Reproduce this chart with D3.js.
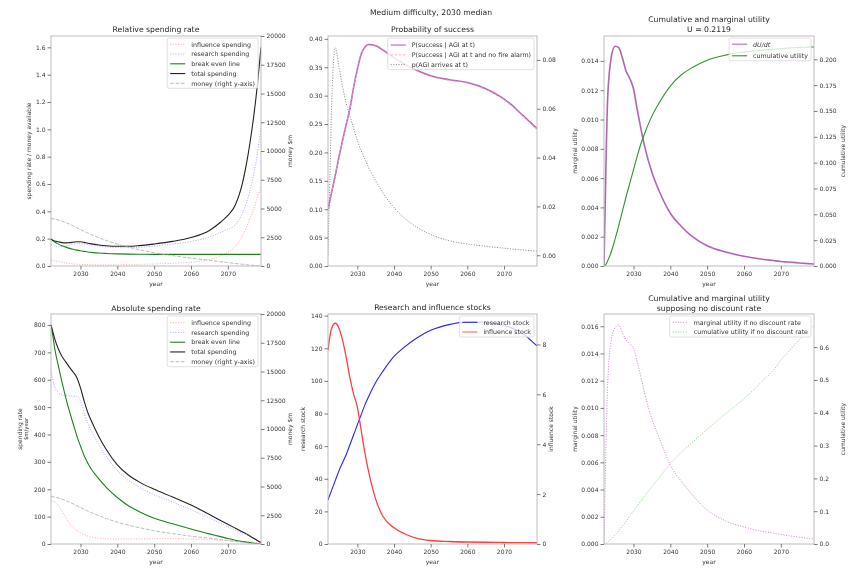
<!DOCTYPE html>
<meta charset="utf-8">
<style>
  body { margin: 0; background: #fff; }
  svg { will-change: transform; }
  svg text { font-family: "DejaVu Sans", sans-serif; }
</style>
<svg width="850" height="574"></svg>
<script src="https://d3js.org/d3.v7.min.js"></script>
<script>
// ---- data ----
const years = [2022, 2022.5, 2023, 2024, 2025, 2026, 2027, 2028, 2029, 2030, 2031, 2032, 2033, 2035, 2037,
  2040, 2043, 2046, 2050, 2055, 2060, 2065, 2068, 2070, 2072, 2074, 2075, 2076, 2077, 2078, 2079];
const xTicks = [2030, 2040, 2050, 2060, 2070];

// relative spending rate
const influenceRel = [0.041, 0.039, 0.037, 0.034, 0.028, 0.022, 0.018, 0.015, 0.013, 0.012, 0.011, 0.010, 0.009, 0.008, 0.008,
  0.009, 0.010, 0.012, 0.015, 0.020, 0.028, 0.048, 0.075, 0.10, 0.145, 0.22, 0.28, 0.35, 0.42, 0.50, 0.58];
const researchRel = [0.156, 0.150, 0.146, 0.143, 0.143, 0.147, 0.153, 0.159, 0.164, 0.165, 0.162, 0.157, 0.153, 0.146, 0.140,
  0.135, 0.134, 0.137, 0.146, 0.160, 0.180, 0.212, 0.245, 0.27, 0.30, 0.39, 0.46, 0.55, 0.67, 0.82, 1.02];
const totalRel = [0.197, 0.189, 0.183, 0.177, 0.171, 0.169, 0.171, 0.174, 0.177, 0.177, 0.173, 0.167, 0.162, 0.154, 0.148,
  0.144, 0.144, 0.149, 0.161, 0.180, 0.208, 0.26, 0.32, 0.37, 0.445, 0.61, 0.74, 0.90, 1.09, 1.32, 1.60];
const breakEvenRel = [0.197, 0.186, 0.176, 0.160, 0.148, 0.138, 0.129, 0.122, 0.116, 0.111, 0.107, 0.103, 0.100, 0.095, 0.092,
  0.089, 0.087, 0.086, 0.085, 0.085, 0.085, 0.085, 0.085, 0.085, 0.085, 0.085, 0.085, 0.085, 0.085, 0.085, 0.085];
const money = [4120, 4110, 4080, 4000, 3900, 3780, 3640, 3490, 3330, 3170, 3010, 2860, 2720, 2460, 2220,
  1900, 1640, 1420, 1150, 900, 680, 500, 380, 300, 220, 150, 115, 80, 50, 22, 0];

// absolute spending rate ($m/year)
const influenceAbs = [158, 157, 154, 140, 118, 98, 76, 60, 49, 41, 34, 29, 26, 21, 19,
  18, 18, 18.5, 19, 19.5, 18, 16, 14, 12.5, 11, 9, 8, 7, 6, 5, 4];
const researchAbs = [630, 600, 575, 553, 544, 542, 541, 540, 539, 522, 478, 440, 412, 362, 320,
  268, 232, 207, 180, 153, 125, 95, 76, 63, 51, 39, 33, 26, 19, 12, 4];
const breakEvenAbs = [800, 760, 715, 650, 590, 535, 485, 440, 395, 358, 322, 295, 272, 238, 207,
  170, 140, 118, 94, 74, 55, 37, 27, 20, 14, 9, 7, 5, 3, 1.5, 0];
const totalAbs = [800, 775, 750, 712, 685, 665, 646, 628, 608, 570, 522, 480, 448, 392, 345,
  289, 252, 226, 200, 172, 142, 108, 86, 72, 58, 44, 37, 29, 21, 13, 5];

// probability of success
const pSuccess = [0.100, 0.115, 0.130, 0.160, 0.192, 0.222, 0.250, 0.278, 0.315, 0.346, 0.372, 0.385, 0.390, 0.388, 0.380,
  0.367, 0.355, 0.345, 0.335, 0.328, 0.323, 0.312, 0.302, 0.294, 0.284, 0.272, 0.266, 0.260, 0.254, 0.248, 0.242];
const pSuccessNoAlarm = [0.100, 0.115, 0.130, 0.160, 0.191, 0.221, 0.249, 0.277, 0.314, 0.345, 0.371, 0.384, 0.389, 0.387, 0.379,
  0.366, 0.354, 0.344, 0.334, 0.327, 0.322, 0.311, 0.301, 0.293, 0.283, 0.271, 0.265, 0.259, 0.253, 0.247, 0.241];
const pAgi = [0, 0.03, 0.062, 0.085, 0.077, 0.069, 0.062, 0.057, 0.052, 0.047, 0.043, 0.0395, 0.0362, 0.0305, 0.0255,
  0.0195, 0.015, 0.0117, 0.0085, 0.006, 0.0046, 0.0037, 0.0032, 0.0029, 0.0026, 0.0023, 0.0022, 0.0021, 0.0019, 0.0018, 0.0017];

// utility
const dUdt = [0, 0.0065, 0.0115, 0.0143, 0.0150, 0.0149, 0.0142, 0.0133, 0.0128, 0.0121, 0.0107, 0.0094, 0.0082, 0.0064, 0.0051,
  0.0036, 0.0027, 0.0020, 0.00138, 0.00095, 0.00066, 0.00046, 0.00037, 0.00031, 0.00027, 0.00023, 0.00021, 0.00019, 0.00017, 0.00015, 0.00014];
const cumU = [0, 0.0015, 0.005, 0.014, 0.026, 0.039, 0.053, 0.067, 0.080, 0.093, 0.106, 0.118, 0.128, 0.145, 0.158,
  0.174, 0.185, 0.192, 0.199, 0.204, 0.207, 0.2088, 0.2098, 0.2103, 0.2108, 0.2112, 0.2114, 0.2116, 0.2117, 0.2118, 0.2119];

// stocks
const researchStock = [27, 30, 33, 39, 45, 50, 55, 61, 67, 73, 79, 85, 90, 99, 106,
  115, 121, 126, 131, 134.5, 136, 136, 135, 134, 132.5, 130.5, 129, 127.5, 125.5, 123.5, 121.5];
const influenceStock = [7.75, 8.3, 8.65, 8.85, 8.65, 8.15, 7.45, 6.65, 6.0, 5.5, 4.6, 3.7, 2.95, 1.8, 1.1,
  0.65, 0.4, 0.24, 0.14, 0.10, 0.08, 0.07, 0.065, 0.06, 0.058, 0.055, 0.054, 0.053, 0.052, 0.051, 0.05];

// no discount rate
const margNoDisc = [0, 0.0068, 0.0118, 0.0150, 0.0159, 0.0161, 0.0155, 0.0150, 0.0147, 0.0144, 0.0134, 0.0123, 0.0111, 0.0092, 0.0078,
  0.0058, 0.0046, 0.0036, 0.0025, 0.0017, 0.00125, 0.00093, 0.0008, 0.0007, 0.00062, 0.00054, 0.0005, 0.00047, 0.00043, 0.0004, 0.00037];
const cumNoDisc = [0, 0.002, 0.006, 0.016, 0.028, 0.041, 0.055, 0.069, 0.085, 0.100, 0.116, 0.131, 0.146, 0.175, 0.202,
  0.245, 0.28, 0.31, 0.35, 0.397, 0.443, 0.497, 0.53, 0.56, 0.585, 0.61, 0.622, 0.634, 0.645, 0.656, 0.667];

// tick values
const relTicks = [0, 0.2, 0.4, 0.6, 0.8, 1.0, 1.2, 1.4, 1.6];
const moneyTicks = [0, 2500, 5000, 7500, 10000, 12500, 15000, 17500, 20000];
const probTicks = [0, 0.05, 0.10, 0.15, 0.20, 0.25, 0.30, 0.35, 0.40];
const agiTicks = [0, 0.02, 0.04, 0.06, 0.08];
const margTicks = [0, 0.002, 0.004, 0.006, 0.008, 0.010, 0.012, 0.014];
const cumTicks = [0, 0.025, 0.05, 0.075, 0.1, 0.125, 0.15, 0.175, 0.2];
const absTicks = [0, 100, 200, 300, 400, 500, 600, 700, 800];
const researchTicks = [0, 20, 40, 60, 80, 100, 120, 140];
const influenceTicks = [0, 2, 4, 6, 8];
const margNDTicks = [0, 0.002, 0.004, 0.006, 0.008, 0.010, 0.012, 0.014, 0.016];
const cumNDTicks = [0, 0.1, 0.2, 0.3, 0.4, 0.5, 0.6];

const svg = d3.select("svg");
svg.append("rect").attr("width", 850).attr("height", 574).attr("fill", "#fff");

svg.append("text")
    .attr("x", 431).attr("y", 15)
    .attr("text-anchor", "middle")
    .attr("font-size", 7.7).attr("fill", "#262626")
    .text("Medium difficulty, 2030 median");

const RED = "#ff5c5c", BLUE = "#6b6bff", GREEN = "#1f7f1f", PURPLE = "#a24aa2";

function styleAxis(g) {
  g.select(".domain").remove();
  g.attr("font-size", 6).attr("font-family", "DejaVu Sans").attr("color", "#333");
  g.selectAll("line").attr("stroke", "#444").attr("stroke-width", 0.7);
}

function drawPanel(p, idx) {
  const g = svg.append("g");
  const x = d3.scaleLinear([2022, 2079], [p.x0, p.x1]);
  const yL = d3.scaleLinear(p.yL, [p.y1, p.y0]);
  const yR = d3.scaleLinear(p.yR, [p.y1, p.y0]);

  svg.append("clipPath").attr("id", "clip" + idx)
    .append("rect").attr("x", p.x0).attr("y", p.y0)
    .attr("width", p.x1 - p.x0).attr("height", p.y1 - p.y0);

  const plot = g.append("g").attr("clip-path", `url(#clip${idx})`);
  p.series.forEach(s => {
    const ys = s.right ? yR : yL;
    plot.append("path")
        .datum(years.map((t, i) => [t, s.values[i]]))
        .attr("fill", "none")
        .attr("stroke", s.color)
        .attr("stroke-width", s.width)
        .attr("stroke-opacity", s.opacity || 1)
        .attr("stroke-dasharray", s.dash || null)
        .attr("d", d3.line().x(d => x(d[0])).y(d => ys(d[1])).curve(d3.curveMonotoneX));
  });

  g.append("rect")
      .attr("x", p.x0).attr("y", p.y0)
      .attr("width", p.x1 - p.x0).attr("height", p.y1 - p.y0)
      .attr("fill", "none").attr("stroke", "#b5b5b5").attr("stroke-width", 0.9);

  g.append("g").attr("transform", `translate(0,${p.y1})`)
      .call(d3.axisBottom(x).tickValues(xTicks).tickFormat(d3.format("d")).tickSize(3.5).tickPadding(2.5))
      .call(styleAxis);
  g.append("g").attr("transform", `translate(${p.x0},0)`)
      .call(d3.axisLeft(yL).tickValues(p.ticksL).tickFormat(d3.format(p.fmtL)).tickSize(3.5).tickPadding(2))
      .call(styleAxis);
  g.append("g").attr("transform", `translate(${p.x1},0)`)
      .call(d3.axisRight(yR).tickValues(p.ticksR).tickFormat(d3.format(p.fmtR)).tickSize(3.5).tickPadding(2))
      .call(styleAxis);

  const cx = (p.x0 + p.x1) / 2;
  p.title.forEach((t, i) => {
    g.append("text")
        .attr("x", cx).attr("y", p.titleY[i])
        .attr("text-anchor", "middle").attr("font-size", 7.7).attr("fill", "#262626")
        .text(t);
  });
  g.append("text")
      .attr("x", cx).attr("y", p.y1 + 20)
      .attr("text-anchor", "middle").attr("font-size", 6).attr("fill", "#333")
      .text("year");

  const cy = (p.y0 + p.y1) / 2;
  p.labelsL.forEach(l => {
    g.append("text")
        .attr("transform", `translate(${l.x + 2.2},${cy}) rotate(-90)`)
        .attr("text-anchor", "middle").attr("font-size", l.size || 6).attr("fill", "#333")
        .text(l.text);
  });
  p.labelsR.forEach(l => {
    g.append("text")
        .attr("transform", `translate(${l.x + 2.2},${cy}) rotate(-90)`)
        .attr("text-anchor", "middle").attr("font-size", 6).attr("fill", "#333")
        .text(l.text);
  });

  // legend, upper right
  const lg = g.append("g");
  const box = lg.append("rect");
  const texts = p.legend.map((e, i) => lg.append("text")
      .attr("y", p.legendY + i * p.legendStep + 2.2)
      .attr("font-size", 6.3).attr("fill", "#333")
      .attr("font-style", e.italic ? "italic" : null)
      .text(e.label));
  const tw = d3.max(texts, t => t.node().getComputedTextLength());
  const right = p.x1 - 3;
  const left = right - (4 + 15 + 5 + tw + 3);
  const top = p.y0 + 2;
  const bottom = p.legendY + (p.legend.length - 1) * p.legendStep + 5;
  box.attr("x", left).attr("y", top).attr("width", right - left).attr("height", bottom - top)
      .attr("rx", 2).attr("fill", "#fff").attr("fill-opacity", 0.8)
      .attr("stroke", "#d8d8d8").attr("stroke-width", 0.8);
  texts.forEach(t => t.attr("x", left + 24));
  p.legend.forEach((e, i) => {
    const yy = p.legendY + i * p.legendStep;
    lg.append("line")
        .attr("x1", left + 3).attr("x2", left + 18).attr("y1", yy).attr("y2", yy)
        .attr("stroke", e.color).attr("stroke-width", e.width)
        .attr("stroke-opacity", e.opacity || 1)
        .attr("stroke-dasharray", e.dash || null);
  });
}

const dot = "1,1.6", dash = "3.7,1.6";

const spendLegendRel = [
  {label: "influence spending", color: RED, width: 1, dash: dot, opacity: 0.55},
  {label: "research spending", color: BLUE, width: 1, dash: dot, opacity: 0.6},
  {label: "break even line", color: GREEN, width: 1.1},
  {label: "total spending", color: "#222", width: 1.1},
  {label: "money (right y-axis)", color: "#aaa", width: 1, dash: dash, opacity: 0.8}
];

const panels = [
  {
    x0: 51, x1: 261, y0: 36, y1: 266,
    yL: [0, 1.683], yR: [0, 20000],
    ticksL: relTicks, fmtL: ".1f", ticksR: moneyTicks, fmtR: "d",
    title: ["Relative spending rate"], titleY: [32],
    labelsL: [{x: 29, text: "spending rate / money available"}],
    labelsR: [{x: 290, text: "money $m"}],
    series: [
      {values: influenceRel, color: RED, width: 1, dash: dot, opacity: 0.55},
      {values: researchRel, color: BLUE, width: 1, dash: dot, opacity: 0.6},
      {values: breakEvenRel, color: GREEN, width: 1.1},
      {values: totalRel, color: "#222", width: 1.1},
      {values: money, right: true, color: "#aaa", width: 1, dash: dash, opacity: 0.8}
    ],
    legend: spendLegendRel, legendY: 44.3, legendStep: 9.75
  },
  {
    x0: 328, x1: 537, y0: 36, y1: 266,
    yL: [0, 0.405], yR: [-0.0044, 0.0898],
    ticksL: probTicks, fmtL: ".2f", ticksR: agiTicks, fmtR: ".2f",
    title: ["Probability of success"], titleY: [32],
    labelsL: [], labelsR: [],
    series: [
      {values: pSuccess, color: PURPLE, width: 1.6, opacity: 0.85},
      {values: pSuccessNoAlarm, color: "#ff9ec4", width: 0.8, dash: "2.5,1.5"},
      {values: pAgi, right: true, color: "#777", width: 0.9, dash: dot}
    ],
    legend: [
      {label: "P(success | AGI at t)", color: PURPLE, width: 1.6, opacity: 0.6},
      {label: "P(success | AGI at t and no fire alarm)", color: "#ff9ec4", width: 0.8, dash: "2.5,1.5"},
      {label: "p(AGI arrives at t)", color: "#777", width: 0.9, dash: dot}
    ],
    legendY: 45, legendStep: 9.8
  },
  {
    x0: 604, x1: 814, y0: 36, y1: 266,
    yL: [0, 0.0157], yR: [0, 0.2225],
    ticksL: margTicks, fmtL: ".3f", ticksR: cumTicks, fmtR: ".3f",
    title: ["Cumulative and marginal utility", "U = 0.2119"], titleY: [21.8, 32],
    labelsL: [{x: 575, text: "marginal utility"}],
    labelsR: [{x: 843, text: "cumulative utility"}],
    series: [
      {values: dUdt, color: PURPLE, width: 1.6, opacity: 0.85},
      {values: cumU, right: true, color: "#2f942f", width: 1.1}
    ],
    legend: [
      {label: "dU/dt", italic: true, color: PURPLE, width: 1.6, opacity: 0.6},
      {label: "cumulative utility", color: "#2f942f", width: 1.1}
    ],
    legendY: 44.3, legendStep: 11.5
  },
  {
    x0: 51, x1: 261, y0: 314, y1: 544,
    yL: [0, 840], yR: [0, 20000],
    ticksL: absTicks, fmtL: "d", ticksR: moneyTicks, fmtR: "d",
    title: ["Absolute spending rate"], titleY: [310.5],
    labelsL: [{x: 20, text: "spending rate"}, {x: 26, text: "$m/year", size: 5.3}],
    labelsR: [{x: 290, text: "money $m"}],
    series: [
      {values: influenceAbs, color: RED, width: 1, dash: dot, opacity: 0.55},
      {values: researchAbs, color: BLUE, width: 1, dash: dot, opacity: 0.6},
      {values: breakEvenAbs, color: GREEN, width: 1.1},
      {values: totalAbs, color: "#222", width: 1.1},
      {values: money, right: true, color: "#aaa", width: 1, dash: dash, opacity: 0.8}
    ],
    legend: spendLegendRel, legendY: 322.7, legendStep: 9.75
  },
  {
    x0: 328, x1: 537, y0: 314, y1: 544,
    yL: [0, 141], yR: [0, 9.22],
    ticksL: researchTicks, fmtL: "d", ticksR: influenceTicks, fmtR: "d",
    title: ["Research and influence stocks"], titleY: [310],
    labelsL: [{x: 303, text: "research stock"}],
    labelsR: [{x: 551, text: "influence stock"}],
    series: [
      {values: researchStock, color: "#2323ff", width: 1.1},
      {values: influenceStock, right: true, color: "#ff2a2a", width: 1.3, opacity: 0.9}
    ],
    legend: [
      {label: "research stock", color: "#2323ff", width: 1.1},
      {label: "influence stock", color: "#ff2a2a", width: 1.3, opacity: 0.6}
    ],
    legendY: 322.3, legendStep: 9.7
  },
  {
    x0: 604, x1: 814, y0: 314, y1: 544,
    yL: [0, 0.0169], yR: [0, 0.701],
    ticksL: margNDTicks, fmtL: ".3f", ticksR: cumNDTicks, fmtR: ".1f",
    title: ["Cumulative and marginal utility", "supposing no discount rate"], titleY: [300.5, 310.5],
    labelsL: [{x: 575, text: "marginal utility"}],
    labelsR: [{x: 843, text: "cumulative utility"}],
    series: [
      {values: margNoDisc, color: "#b84db8", width: 0.9, dash: dot, opacity: 0.8},
      {values: cumNoDisc, right: true, color: "#3cb83c", width: 0.9, dash: dot, opacity: 0.7}
    ],
    legend: [
      {label: "marginal utility if no discount rate", color: "#b84db8", width: 0.9, dash: dot, opacity: 0.8},
      {label: "cumulative utility if no discount rate", color: "#3cb83c", width: 0.9, dash: dot, opacity: 0.7}
    ],
    legendY: 322.3, legendStep: 9.7
  }
];

panels.forEach(drawPanel);
</script>
